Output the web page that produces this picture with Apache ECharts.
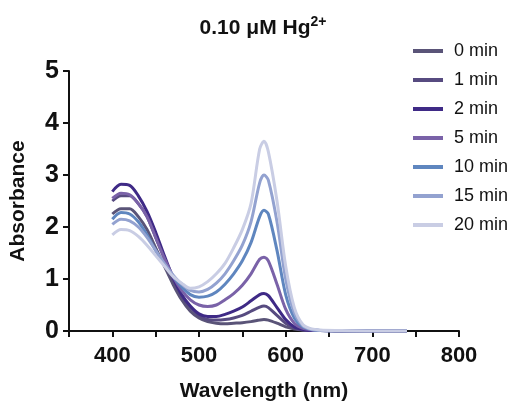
<!DOCTYPE html>
<html>
<head>
    <meta charset="utf-8" />
    <script src="https://cdn.jsdelivr.net/npm/echarts@6/dist/echarts.min.js"></script>
    <style>body{margin:0}#main{width:518px;height:417px}</style>
</head>
<body>
<div id="main"></div>
<script type="text/javascript">
    var wavelengths = [400,410,420,430,440,450,460,470,480,490,500,510,520,530,540,550,560,570,575,580,590,600,610,620,630,640,660,700,740];
    var names = ['0 min', '1 min', '2 min', '5 min', '10 min', '15 min', '20 min'];
    var colors = ['#5a5478', '#574b80', '#3f2a86', '#7a62a8', '#5f86bf', '#93a2d0', '#c9cde4'];
    var abs0 = [2.25,2.35,2.35,2.2,1.95,1.6,1.25,0.9,0.6,0.38,0.25,0.18,0.15,0.14,0.15,0.16,0.18,0.21,0.22,0.21,0.15,0.08,0.04,0.02,0.01,0.01,0,0,0];
    var abs1 = [2.5,2.6,2.6,2.45,2.2,1.8,1.4,1.0,0.68,0.45,0.3,0.22,0.21,0.22,0.25,0.3,0.38,0.46,0.48,0.45,0.3,0.15,0.06,0.02,0.01,0.01,0,0,0];
    var abs2 = [2.68,2.82,2.8,2.6,2.3,1.9,1.45,1.03,0.7,0.48,0.33,0.28,0.28,0.32,0.38,0.46,0.58,0.7,0.72,0.68,0.45,0.22,0.08,0.03,0.01,0.01,0,0,0];
    var abs5 = [2.55,2.65,2.62,2.45,2.2,1.8,1.4,1.05,0.78,0.6,0.5,0.47,0.5,0.6,0.72,0.88,1.1,1.38,1.42,1.35,0.9,0.42,0.15,0.05,0.02,0.01,0,0,0];
    var abs10 = [2.15,2.28,2.25,2.1,1.85,1.55,1.28,1.05,0.85,0.7,0.65,0.67,0.75,0.9,1.1,1.35,1.7,2.2,2.32,2.25,1.55,0.7,0.25,0.08,0.03,0.01,0,0,0];
    var abs15 = [2.05,2.15,2.12,2.0,1.8,1.55,1.3,1.08,0.9,0.78,0.75,0.8,0.92,1.1,1.35,1.65,2.1,2.85,3.0,2.9,2.1,1.0,0.35,0.1,0.03,0.01,0,0,0];
    var abs20 = [1.85,1.95,1.93,1.82,1.65,1.45,1.25,1.05,0.92,0.82,0.85,0.95,1.1,1.3,1.6,1.95,2.45,3.5,3.65,3.45,2.5,1.25,0.45,0.12,0.04,0.02,0.01,0,0];
    var allAbs = [abs0, abs1, abs2, abs5, abs10, abs15, abs20];

    var myChart = echarts.init(document.getElementById('main'));
    var font = 'Arial, "Liberation Sans", sans-serif';

    var series = names.map(function (n, i) {
        return {
            name: n,
            type: 'line',
            smooth: 0.3,
            showSymbol: false,
            lineStyle: { width: 3, color: colors[i] },
            itemStyle: { color: colors[i] },
            data: wavelengths.map(function (w, j) { return [w, allAbs[i][j]]; })
        };
    });

    var option = {
        animation: false,
        textStyle: { fontFamily: font },
        title: {
            text: '{b|0.10 μM Hg}{sup|2+}',
            left: 258, top: 10, textAlign: 'center',
            textStyle: {
                rich: {
                    b: { fontSize: 21, fontWeight: 'bold', color: '#111', fontFamily: font },
                    sup: { fontSize: 14, fontWeight: 'bold', color: '#111', fontFamily: font, verticalAlign: 'top', padding: [0, 0, 12, 0] }
                }
            }
        },
        legend: {
            orient: 'vertical', left: 408, top: 37,
            itemWidth: 30, itemHeight: 4, itemGap: 11,
            icon: 'rect',
            textStyle: { fontSize: 18, color: '#111', padding: [0, 0, 0, 6] },
            data: names
        },
        grid: { left: 69, right: 59, top: 71, bottom: 86 },
        xAxis: {
            type: 'value', min: 350, max: 800, interval: 50,
            name: 'Wavelength (nm)', nameLocation: 'middle', nameGap: 50,
            nameTextStyle: { fontSize: 21, fontWeight: 'bold', color: '#111' },
            axisLine: { lineStyle: { color: '#111', width: 2 } },
            axisTick: { length: 6, lineStyle: { width: 2 } },
            axisLabel: {
                fontSize: 22, fontWeight: 'bold', color: '#111', margin: 14,
                formatter: function (v) { return v % 100 === 0 ? v : ''; }
            },
            splitLine: { show: false }
        },
        yAxis: {
            type: 'value', min: 0, max: 5, interval: 1,
            name: 'Absorbance', nameLocation: 'middle', nameGap: 40,
            nameTextStyle: { fontSize: 21, fontWeight: 'bold', color: '#111' },
            axisLine: { show: true, lineStyle: { color: '#111', width: 2 } },
            axisTick: { show: true, length: 6, lineStyle: { width: 2 } },
            axisLabel: { fontSize: 25, fontWeight: 'bold', color: '#111', margin: 10 },
            splitLine: { show: false }
        },
        series: series
    };

    myChart.setOption(option);
</script>
</body>
</html>
